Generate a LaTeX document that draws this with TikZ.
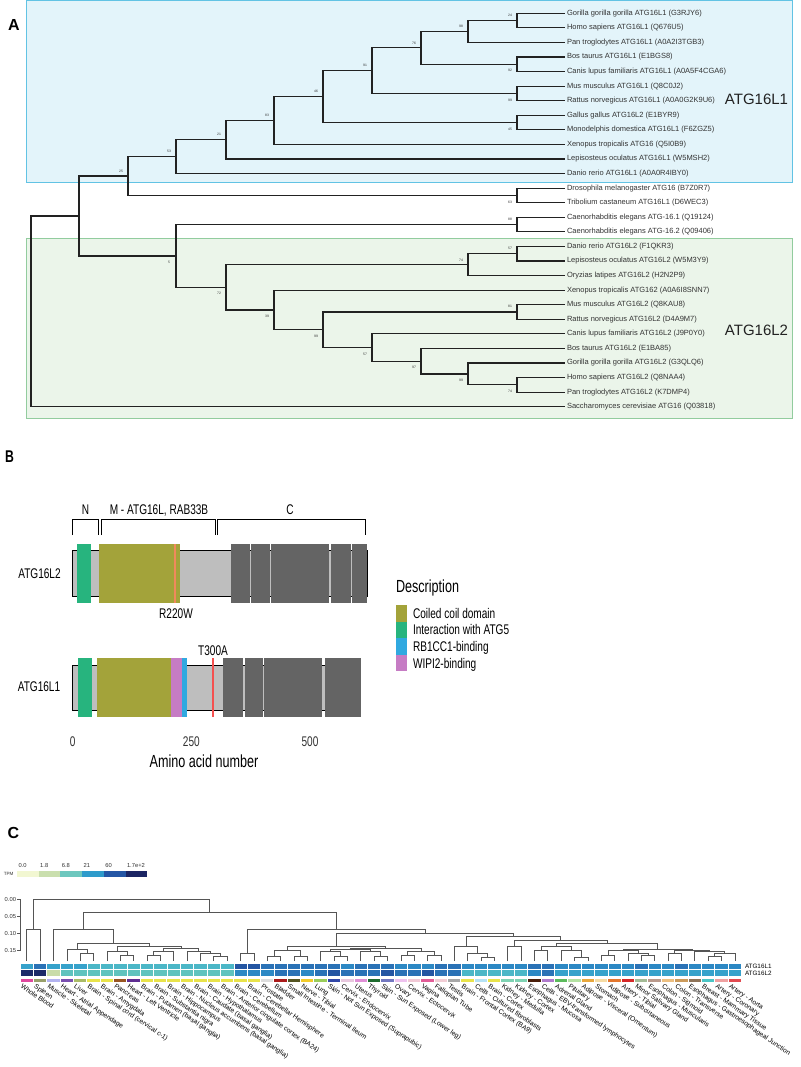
\documentclass[tikz,border=0pt]{standalone}
\usepackage{fontspec}
\setmainfont{Liberation Sans}
\newfontfamily\narrowfont[FakeStretch=0.72]{Liberation Sans}
\usetikzlibrary{positioning}

\definecolor{cL1fill}{HTML}{E3F4FA}
\definecolor{cL1line}{HTML}{62C3E4}
\definecolor{cL2fill}{HTML}{EBF5EA}
\definecolor{cL2line}{HTML}{92CC9E}
\definecolor{c222222}{HTML}{222222}
\definecolor{c333333}{HTML}{333333}
\definecolor{c555555}{HTML}{555555}
\definecolor{cbebebe}{HTML}{BEBEBE}
\definecolor{c646464}{HTML}{646464}
\definecolor{ccoil}{HTML}{A3A33A}
\definecolor{catg5}{HTML}{27B47E}
\definecolor{crb1}{HTML}{30A9E0}
\definecolor{cwipi}{HTML}{C67CC4}
\definecolor{cmutA}{HTML}{F0895C}
\definecolor{cmutB}{HTML}{F4504F}
% tpm key
\definecolor{kA}{HTML}{F2F7D2}
\definecolor{kB}{HTML}{CADFAE}
\definecolor{kC}{HTML}{6DC7BE}
\definecolor{kD}{HTML}{2E9BCB}
\definecolor{kE}{HTML}{2456A5}
\definecolor{kF}{HTML}{1B2563}
% heat cells
\definecolor{hpale}{HTML}{C9DCA9}
\definecolor{hteal}{HTML}{5FC3BE}
\definecolor{hcyan}{HTML}{4BB7C7}
\definecolor{hsky}{HTML}{36A2CB}
\definecolor{hblue}{HTML}{2C88C4}
\definecolor{hmid}{HTML}{2A72B6}
\definecolor{hdeep}{HTML}{2355A2}
\definecolor{hnavy}{HTML}{1C2A69}
\def \globalscale {1.000000}

\begin{document}
\begin{tikzpicture}[x=1pt, y=-1pt, yscale=\globalscale, xscale=\globalscale,
  every node/.append style={scale=\globalscale}, inner sep=0pt, outer sep=0pt,
  branch/.style={draw=c222222, line width=1.2pt, line join=miter},
  tip/.style={anchor=west, inner xsep=2pt, text=c333333, text height=5.4pt,
    text depth=1.6pt, font=\fontsize{7.5}{8}\selectfont},
  boot/.style={text=c333333, font=\fontsize{3.4}{4}\selectfont},
  clade/.style={text=c222222, font=\fontsize{15}{17}\selectfont},
  panel/.style={text=black, font=\fontsize{16}{18}\selectfont\bfseries},
  plab/.style={anchor=base, text=black, font=\narrowfont\fontsize{14}{16}\selectfont},
  brack/.style={draw=black, line width=0.9pt},
  dendro/.style={draw=c555555, line width=0.6pt},
  keytxt/.style={text=c333333, font=\fontsize{5.8}{6}\selectfont},
  tissue/.style={anchor=north west, rotate=-34, text=black, font=\fontsize{6.7}{7}\selectfont},
  rowtxt/.style={anchor=west, text=black, font=\fontsize{6.3}{7}\selectfont}]
  \path[fill=white] (0,0) rectangle (800,1067);
  \useasboundingbox (0,0) rectangle (800,1067);

  % ---------------- A ----------------
  \path[draw=cL1line, fill=cL1fill, line width=0.9pt] (26, 0.6) rectangle (792, 182);
  \path[draw=cL2line, fill=cL2fill, line width=0.9pt] (26, 238) rectangle (792, 418);
  \node[panel] (lblA) at (14, 24.5) {A};
  \node[clade] (cladeL1) at (756.5, 99.5) {ATG16L1};
  \node[clade] (cladeL2) at (756.5, 330) {ATG16L2};

  \foreach \lab [count=\i] in {Gorilla gorilla gorilla ATG16L1 (G3RJY6),
    Homo sapiens ATG16L1 (Q676U5), Pan troglodytes ATG16L1 (A0A2I3TGB3),
    Bos taurus ATG16L1 (E1BGS8), Canis lupus familiaris ATG16L1 (A0A5F4CGA6),
    Mus musculus ATG16L1 (Q8C0J2), Rattus norvegicus ATG16L1 (A0A0G2K9U6),
    Gallus gallus ATG16L2 (E1BYR9), Monodelphis domestica ATG16L1 (F6ZGZ5),
    Xenopus tropicalis ATG16 (Q5I0B9), Lepisosteus oculatus ATG16L1 (W5MSH2),
    Danio rerio ATG16L1 (A0A0R4IBY0), Drosophila melanogaster ATG16 (B7Z0R7),
    Tribolium castaneum ATG16L1 (D6WEC3), Caenorhabditis elegans ATG-16.1 (Q19124),
    Caenorhabditis elegans ATG-16.2 (Q09406), Danio rerio ATG16L2 (F1QKR3),
    Lepisosteus oculatus ATG16L2 (W5M3Y9), Oryzias latipes ATG16L2 (H2N2P9),
    Xenopus tropicalis ATG162 (A0A6I8SNN7), Mus musculus ATG16L2 (Q8KAU8),
    Rattus norvegicus ATG16L2 (D4A9M7), Canis lupus familiaris ATG16L2 (J9P0Y0),
    Bos taurus ATG16L2 (E1BA85), Gorilla gorilla gorilla ATG16L2 (G3QLQ6),
    Homo sapiens ATG16L2 (Q8NAA4), Pan troglodytes ATG16L2 (K7DMP4),
    Saccharomyces cerevisiae ATG16 (Q03818)}
    \node[tip] (t\i) at (565, {13.3+(\i-1)*14.57}) {\lab};

  \coordinate (j) at (517, 20.6);
  \coordinate (i) at (468, 31.5);
  \coordinate (nBC) at (517, 64.3);
  \coordinate (h) at (421, 47.9);
  \coordinate (nMR1) at (517, 93.45);
  \coordinate (g) at (372, 70.7);
  \coordinate (nGM) at (517, 122.6);
  \coordinate (f) at (323, 96.65);
  \coordinate (e) at (274, 120.55);
  \coordinate (d) at (226, 139.8);
  \coordinate (c) at (176, 156.7);
  \coordinate (nDT) at (517, 195.4);
  \coordinate (b) at (128, 176.05);
  \coordinate (nCE) at (517, 224.55);
  \coordinate (nDL) at (517, 253.7);
  \coordinate (nDLO) at (468, 264.65);
  \coordinate (nMR2) at (517, 312);
  \coordinate (r) at (517, 384.8);
  \coordinate (q) at (468, 373.9);
  \coordinate (p) at (421, 361.15);
  \coordinate (o) at (372, 347.5);
  \coordinate (n) at (323, 329.75);
  \coordinate (m) at (274, 309.95);
  \coordinate (l) at (226, 287.3);
  \coordinate (k) at (176, 255.9);
  \coordinate (a) at (79, 216);
  \coordinate (root) at (31, 311.35);

  \foreach \up/\down in {j/t1.west, j/t2.west, i/j, i/t3.west, nBC/t4.west, nBC/t5.west,
    h/i, h/nBC, nMR1/t6.west, nMR1/t7.west, g/h, g/nMR1, nGM/t8.west, nGM/t9.west,
    f/g, f/nGM, e/f, e/t10.west, d/e, d/t11.west, c/d, c/t12.west,
    nDT/t13.west, nDT/t14.west, b/c, b/nDT, nCE/t15.west, nCE/t16.west,
    nDL/t17.west, nDL/t18.west, nDLO/nDL, nDLO/t19.west, nMR2/t21.west, nMR2/t22.west,
    r/t26.west, r/t27.west, q/t25.west, q/r, p/t24.west, p/q, o/t23.west, o/p,
    n/nMR2, n/o, m/t20.west, m/n, l/nDLO, l/m, k/nCE, k/l, a/b, a/k,
    root/a, root/t28.west}
    \draw[branch] (\up) |- (\down);

  % bootstrap values
  \foreach \nd/\val/\dy in {j/24/-5, i/98/-5, h/76/-5, g/91/-5, f/46/-5, e/83/-5,
    d/21/-5, c/53/-5, b/25/-5, nBC/92/6.5, nMR1/99/6.5, nGM/45/6.5, nDT/63/6.5,
    nCE/88/-5, k/5/6.5, l/72/6.5, nDL/57/-5, nDLO/74/-4, m/39/6.5, nMR2/81/-6,
    n/99/6.5, o/57/6.5, p/97/6.5, q/99/6.5, r/74/7}
    \node[boot] at ([shift={(-7,\dy)}]\nd) {\val};

  % ---------------- B ----------------
  \node[panel, font=\narrowfont\fontsize{17}{19}\selectfont\bfseries] (lblB) at (9.5, 456.5) {B};

  \draw[brack] (72.7,535) -- (72.7,519.5) -- (98.3,519.5) -- (98.3,535);
  \draw[brack] (101,535) -- (101,519.5) -- (215,519.5) -- (215,535);
  \draw[brack] (217.7,535) -- (217.7,519.5) -- (365,519.5) -- (365,535);
  \node[plab] (segN) at (85.5, 514) {N};
  \node[plab] (segM) at (159, 514) {M - ATG16L, RAB33B};
  \node[plab] (segC) at (290, 514) {C};

  % ATG16L2
  \node[plab] (protL2) at (39.5, 578) {ATG16L2};
  \path[draw=black, fill=cbebebe, line width=0.8pt] (72.7,550.7) rectangle (367,596.7);
  \path[fill=catg5] (77.3,544.3) rectangle (91.3,602.7);
  \path[fill=ccoil] (99.3,544.3) rectangle (180,602.7);
  \path[draw=cmutA, line width=1.4pt] (175,544.3) -- (175,602.7);
  \foreach \xa/\xb in {230.7/250, 251.3/270, 271.3/329, 331/351, 352/367}
    \path[fill=c646464] (\xa,544.3) rectangle (\xb,602.7);
  \node[plab] (mutL2) at (176, 618.3) {R220W};

  % ATG16L1
  \node[plab] (protL1) at (39, 691.7) {ATG16L1};
  \path[draw=black, fill=cbebebe, line width=0.8pt] (72.7,665) rectangle (360,710);
  \path[fill=catg5] (78,658.3) rectangle (92,716.7);
  \path[fill=ccoil] (97,658.3) rectangle (170.7,716.7);
  \path[fill=cwipi] (170.7,658.3) rectangle (182,716.7);
  \path[fill=crb1] (182,658.3) rectangle (187.3,716.7);
  \path[fill=cmutB] (212.4,658.3) rectangle (214.2,716.7);
  \foreach \xa/\xb in {223.3/243.3, 245/263.3, 264.3/322.3, 325/361.3}
    \path[fill=c646464] (\xa,658.3) rectangle (\xb,716.7);
  \node[plab] (mutL1) at (213, 655) {T300A};

  % axis
  \node[plab, text=c333333] (ax0) at (72.7, 746.7) {0};
  \node[plab, text=c333333] (ax250) at (191.4, 746.7) {250};
  \node[plab, text=c333333] (ax500) at (310, 746.7) {500};
  \node[plab, font=\narrowfont\fontsize{17.5}{19}\selectfont] (axtitle) at (204, 767.8) {Amino acid number};

  % legend
  \node[plab, anchor=base west, font=\narrowfont\fontsize{17.5}{19}\selectfont] (legtitle) at (396, 592.8) {Description};
  \foreach \col/\txt [count=\i] in {ccoil/Coiled coil domain, catg5/Interaction with ATG5,
    crb1/RB1CC1-binding, cwipi/WIPI2-binding} {
    \path[fill=\col] (396, {605+16.6*(\i-1)}) rectangle (407, {605+16.6*\i});
    \node[plab, anchor=base west] (leg\i) at (413, {618.3+16.6*(\i-1)}) {\txt};
  }

  % ---------------- C ----------------
  \node[panel] (lblC) at (13.5, 833) {C};
  \node[keytxt, anchor=east, font=\fontsize{4.6}{5}\selectfont] (tpm) at (13.5, 873.5) {TPM};
  \foreach \col/\val [count=\i] in {kA/0.0, kB/1.8, kC/6.8, kD/21, kE/60, kF/1.7e+2} {
    \path[fill=\col] ({17+21.7*(\i-1)}, 870.7) rectangle ({17+21.7*\i}, 876.7);
    \node[keytxt, anchor=base west] (key\i) at ({17+21.7*(\i-1)+1.5}, 867) {\val};
  }

  % dendrogram axis
  \draw[dendro] (20, 899.3) -- (20, 951);
  \foreach \v [count=\i] in {0.00, 0.05, 0.10, 0.15} {
    \draw[dendro] (17, {899.3+16.9*(\i-1)}) -- (20, {899.3+16.9*(\i-1)});
    \node[keytxt, anchor=east] (dax\i) at (16, {899.3+16.9*(\i-1)}) {\v};
  }

  % dendrogram merges
  \foreach \xa/\ya/\xb/\yb/\ym in {26.7/961/40.0/961/929.3, 80.1/961/93.5/961/953.3,
    66.8/961/86.8/953.3/949.3, 120.2/961/133.6/961/955, 106.8/961/126.9/955/951,
    146.9/961/160.3/961/955.5, 153.6/955.5/173.6/961/951, 213.7/961/227.1/961/956,
    200.4/961/220.4/956/953.5, 187.0/961/210.4/953.5/951, 163.6/951/198.7/951/948.5,
    116.85/951/181.15/948.5/946.7, 76.8/949.3/149.0/946.7/943.3, 53.4/961/112.9/943.3/929.3,
    240.4/961/253.8/961/953, 267.2/961/280.5/961/956.7, 293.9/961/307.2/961/956.7,
    273.85/956.7/300.55/956.7/950, 334.0/961/347.3/961/956.7, 320.6/961/340.65/956.7/951.5,
    374.0/961/387.4/961/956.7, 360.7/961/380.7/956.7/951.5, 330.6/951.5/370.7/951.5/949.5,
    400.8/961/414.1/961/955, 427.5/961/440.8/961/955, 407.45/955/434.15/955/951,
    350.65/949.5/420.8/951/948, 287.2/950/385.7/948/946.7, 480.9/961/494.3/961/957,
    467.6/961/487.6/957/953.3, 454.2/961/477.6/953.3/946.7, 507.6/961/521.0/961/946.7,
    534.4/961/547.7/961/950, 574.4/961/587.8/961/957, 561.1/961/581.1/957/950,
    541.05/950/571.1/950/946.7, 601.2/961/614.5/961/955, 641.2/961/654.6/961/955,
    627.9/961/647.9/955/953.3, 607.85/955/637.9/953.3/950.5, 668.0/961/681.3/961/953,
    708.0/961/721.4/961/956.7, 714.7/956.7/734.8/961/953.3, 694.7/961/724.75/953.3/951.5,
    674.65/953/709.7/951.5/950.5, 622.9/950.5/692.2/950.5/949.5, 556.1/946.7/657.55/949.5/943.3,
    514.3/946.7/606.8/943.3/940, 465.9/946.7/560.55/940/936.7, 336.45/946.7/513.2/936.7/933.3,
    247.1/953/424.8/933.3/929.3, 83.15/929.3/335.95/929.3/912.7, 33.35/929.3/209.55/912.7/899.3}
    \draw[dendro] (\xa,\ya) -- (\xa,\ym) -- (\xb,\ym) -- (\xb,\yb);

  % heatmap
  \foreach \col [count=\i] in {hsky,hmid,hsky,hsky,hsky,hcyan,hcyan,hcyan,hcyan,hcyan,
    hcyan,hcyan,hcyan,hcyan,hcyan,hcyan,hdeep,hdeep,hmid,hmid,hmid,hmid,hmid,hmid,hblue,
    hmid,hmid,hmid,hblue,hblue,hblue,hmid,hmid,hblue,hblue,hblue,hblue,hblue,hmid,hmid,
    hblue,hblue,hblue,hblue,hblue,hblue,hmid,hblue,hblue,hmid,hblue,hblue,hblue,hblue}
    \path[draw=white, fill=\col, line width=0.5pt] ({20+13.36*(\i-1)}, 963.3) rectangle ({20+13.36*\i}, 969.7);
  \foreach \col [count=\i] in {hnavy,hnavy,hpale,hteal,hteal,hteal,hteal,hteal,hteal,hteal,
    hteal,hteal,hteal,hteal,hteal,hteal,hblue,hblue,hblue,hmid,hmid,hblue,hmid,hdeep,hmid,
    hmid,hmid,hdeep,hmid,hmid,hdeep,hmid,hmid,hcyan,hcyan,hcyan,hcyan,hcyan,hblue,hmid,
    hsky,hsky,hsky,hsky,hsky,hsky,hsky,hsky,hsky,hsky,hsky,hsky,hsky,hsky}
    \path[draw=white, fill=\col, line width=0.5pt] ({20+13.36*(\i-1)}, 969.7) rectangle ({20+13.36*\i}, 976.1);
  \node[rowtxt] (rowL1) at (745, 966.5) {ATG16L1};
  \node[rowtxt] (rowL2) at (745, 973.2) {ATG16L2};

  % tissue colour strip
  \foreach \hex [count=\i] in {E0479E,99A06A,B3B3F0,7A4FB0,AABB66,E9E34A,E9E34A,995522,
    5F2D91,E9E34A,E9E34A,E9E34A,E9E34A,E9E34A,E9E34A,E9E34A,E9E34A,E9E34A,DDDDDD,AA1A1A,
    555522,F2CB2B,9ACD5A,3348A8,E8C8DE,E08FD6,1E6B2E,7378C0,EFC2EF,F2C9D6,E25C97,F2CDD5,
    A8A8A8,E9E34A,B5E2F5,E9E34A,7FD3B3,7FD3B3,4A1E0A,B07ACC,5CBB5C,B4E2A2,E9A83D,F6DCA4,
    E5782F,D62828,A4BB96,BA9A8C,EDBF80,CC9A5A,8E7358,4CC5C5,F0A0A0,E24A50} {
    \definecolor{tisscol}{HTML}{\hex}
    \path[fill=tisscol] ({20.5+13.36*(\i-1)}, 979) rectangle ({19.5+13.36*\i}, 981.8);
  }

  % tissue names
  \foreach \lab [count=\i] in {Whole Blood, Spleen, Muscle - Skeletal,
    Heart - Atrial Appendage, Liver, Brain - Spinal cord (cervical c-1),
    Brain - Amygdala, Pancreas, Heart - Left Ventricle, Brain - Putamen (basal ganglia),
    Brain - Substantia nigra, Brain - Hippocampus, Brain - Nucleus accumbens (basal ganglia),
    Brain - Caudate (basal ganglia), Brain - Hypothalamus,
    Brain - Anterior cingulate cortex (BA24), Brain - Cerebellum,
    Brain - Cerebellar Hemisphere, Prostate, Bladder, Small Intestine - Terminal Ileum,
    Nerve - Tibial, Lung, Skin - Not Sun Exposed (Suprapubic), Cervix - Endocervix,
    Uterus, Thyroid, Skin - Sun Exposed (Lower leg), Ovary, Cervix - Ectocervix, Vagina,
    Fallopian Tube, Testis, Brain - Frontal Cortex (BA9), Cells - Cultured fibroblasts,
    Brain - Cortex, Kidney - Medulla, Kidney - Cortex, Esophagus - Mucosa,
    Cells - EBV-transformed lymphocytes, Adrenal Gland, Pituitary,
    Adipose - Visceral (Omentum), Stomach, Adipose - Subcutaneous, Artery - Tibial,
    Minor Salivary Gland, Esophagus - Muscularis, Colon - Sigmoid, Colon - Transverse,
    Esophagus - Gastroesophageal Junction, Breast - Mammary Tissue, Artery - Coronary,
    Artery - Aorta}
    \node[tissue] (tis\i) at ({23+13.36*(\i-1)}, 983.5) {\lab};

\end{tikzpicture}
\end{document}
